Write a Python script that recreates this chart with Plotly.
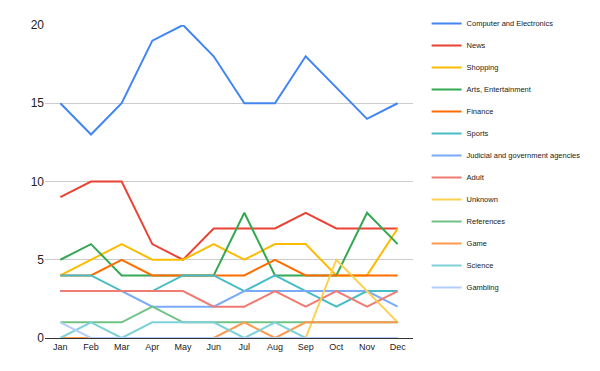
import plotly.graph_objects as go

months = ["Jan", "Feb", "Mar", "Apr", "May", "Jun", "Jul", "Aug", "Sep", "Oct", "Nov", "Dec"]

computer_electronics = [15, 13, 15, 19, 20, 18, 15, 15, 18, 16, 14, 15]
news = [9, 10, 10, 6, 5, 7, 7, 7, 8, 7, 7, 7]
shopping = [4, 5, 6, 5, 5, 6, 5, 6, 6, 4, 4, 7]
arts_entertainment = [5, 6, 4, 4, 4, 4, 8, 4, 4, 4, 8, 6]
finance = [4, 4, 5, 4, 4, 4, 4, 5, 4, 4, 4, 4]
sports = [4, 4, 3, 3, 4, 4, 3, 4, 3, 2, 3, 3]
judicial = [3, 3, 3, 2, 2, 2, 3, 3, 3, 3, 3, 2]
adult = [3, 3, 3, 3, 3, 2, 2, 3, 2, 3, 2, 3]
unknown = [0, 0, 0, 0, 0, 0, 0, 0, 0, 5, 3, 1]
references = [1, 1, 1, 2, 1, 1, 1, 1, 1, 1, 1, 1]
game = [0, 0, 0, 0, 0, 0, 1, 0, 1, 1, 1, 1]
science = [0, 1, 0, 1, 1, 1, 0, 1, 0, 0, 0, 0]
gambling = [1, 0, 0, 0, 0, 0, 0, 0, 0, 0, 0, 0]

series = [
    ("Computer and Electronics", computer_electronics, "#4285F4"),
    ("News", news, "#EA4335"),
    ("Shopping", shopping, "#FBBC04"),
    ("Arts, Entertainment", arts_entertainment, "#34A853"),
    ("Finance", finance, "#FF6D01"),
    ("Sports", sports, "#46BDC6"),
    ("Judicial and government agencies", judicial, "#7BAAF7"),
    ("Adult", adult, "#F07B72"),
    ("Unknown", unknown, "#FCD04F"),
    ("References", references, "#71C287"),
    ("Game", game, "#FF994D"),
    ("Science", science, "#7ED1D7"),
    ("Gambling", gambling, "#B3CEFB"),
]

fig = go.Figure()
for i, (name, vals, color) in enumerate(series):
    fig.add_trace(go.Scatter(
        x=months, y=vals, name=name, mode="lines",
        line=dict(color=color, width=2),
        legendgroup=f"g{i}",
    ))

fig.update_layout(
    width=600, height=371,
    margin=dict(l=37, r=195, t=17, b=41, autoexpand=False),
    plot_bgcolor="white", paper_bgcolor="white",
    font=dict(family="Liberation Sans, Arial, sans-serif", color="#222"),
    showlegend=True,
    legend=dict(
        x=1.037, y=1.051, xanchor="left", yanchor="top",
        font=dict(size=7.5, color="#222"),
        tracegroupgap=3,
        maxheight=400,
        bgcolor="rgba(0,0,0,0)",
    ),
    xaxis=dict(
        type="category", range=[-0.5, 11.5],
        showgrid=False, zeroline=False,
        showline=True, linecolor="#333", linewidth=1,
        layer="above traces",
        tickfont=dict(size=9, color="#222"),
        ticks="",
    ),
    yaxis=dict(
        range=[0, 20], tickvals=[0, 5, 10, 15, 20],
        showgrid=True, gridcolor="#cccccc", gridwidth=1,
        zeroline=False, showline=False,
        tickfont=dict(size=12, color="#222"),
        ticks="",
    ),
)

fig.write_html("out.html")
